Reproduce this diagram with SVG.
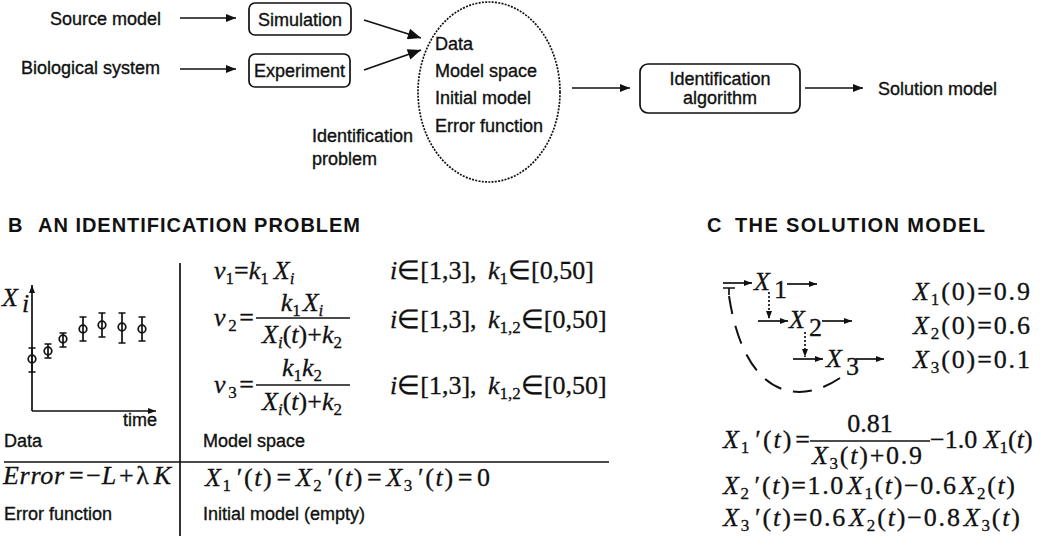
<svg xmlns="http://www.w3.org/2000/svg" width="1040" height="536" viewBox="0 0 1040 536">
<defs>
<style>
.s{font-family:"Liberation Sans",Arial,sans-serif;font-size:18px;fill:#111;stroke:#111;stroke-width:0.35}
.h{font-family:"Liberation Sans",Arial,sans-serif;font-size:20px;font-weight:bold;fill:#111}
.m{font-family:"Liberation Serif","Times New Roman",serif;font-size:26px;fill:#111;stroke:#111;stroke-width:0.3}
.i{font-style:italic}
.sb{font-size:17px}
.ln{stroke:#111;stroke-width:1.7;fill:none}
.bx{stroke:#111;stroke-width:1.7;fill:#fff}
.dot{stroke:#111;stroke-width:1.7;fill:none;stroke-dasharray:2 1.3}
</style>
<marker id="ah" viewBox="0 0 10 8" refX="10" refY="4" markerWidth="10" markerHeight="8" markerUnits="userSpaceOnUse" orient="auto"><path d="M0,0 L10,4 L0,8 z" fill="#111"/></marker>
<marker id="ahb" viewBox="0 0 12 10" refX="12" refY="5" markerWidth="14" markerHeight="11" markerUnits="userSpaceOnUse" orient="auto"><path d="M0,0 L12,5 L0,10 z" fill="#111"/></marker>
<marker id="ahs" viewBox="0 0 8 6" refX="8" refY="3" markerWidth="8" markerHeight="6" markerUnits="userSpaceOnUse" orient="auto"><path d="M0,0 L8,3 L0,6 z" fill="#111"/></marker>
</defs>
<rect width="1040" height="536" fill="#fff"/>

<!-- Panel A -->
<g id="source-model"><text class="s" x="161" y="25" text-anchor="end">Source model</text></g>
<g id="biological-system"><text class="s" x="160" y="74" text-anchor="end">Biological system</text></g>
<g id="simulation"><rect class="bx" x="249" y="3" width="102" height="32" rx="6"/><text class="s" x="300" y="26" text-anchor="middle">Simulation</text></g>
<g id="experiment"><rect class="bx" x="249" y="54" width="101" height="33" rx="6"/><text class="s" x="299.5" y="77" text-anchor="middle">Experiment</text></g>
<g id="identification-problem">
<ellipse class="dot" cx="489" cy="92" rx="71" ry="90"/>
<text class="s" x="435" y="50">Data</text>
<text class="s" x="435" y="77">Model space</text>
<text class="s" x="435" y="104">Initial model</text>
<text class="s" x="435" y="132">Error function</text>
<text class="s" x="312" y="142">Identification</text>
<text class="s" x="312" y="165">problem</text>
</g>
<g id="identification-algorithm"><rect class="bx" x="640" y="64" width="160" height="49" rx="8"/><text class="s" x="720" y="85" text-anchor="middle">Identification</text><text class="s" x="720" y="104" text-anchor="middle">algorithm</text></g>
<g id="solution-model"><text class="s" x="878" y="95">Solution model</text></g>

<g id="connectors">
<line class="ln" x1="180" y1="18" x2="236" y2="18" marker-end="url(#ah)"/>
<line class="ln" x1="180" y1="69" x2="236" y2="69" marker-end="url(#ah)"/>
<line class="ln" x1="364" y1="20" x2="421" y2="38" marker-end="url(#ahb)"/>
<line class="ln" x1="364" y1="70" x2="421" y2="50" marker-end="url(#ahb)"/>
<line class="ln" x1="572" y1="88" x2="630" y2="88" marker-end="url(#ah)"/>
<line class="ln" x1="805" y1="88" x2="863" y2="88" marker-end="url(#ah)"/>
</g>

<!-- Panel B -->
<g id="header-b"><text class="h" x="8" y="232">B</text><text class="h" x="38" y="232" textLength="322" lengthAdjust="spacing">AN IDENTIFICATION PROBLEM</text></g>
<line class="ln" x1="180" y1="263" x2="180" y2="536" stroke-width="1.8"/>
<line class="ln" x1="4" y1="462" x2="609" y2="462" stroke-width="1.8"/>

<g id="data">
<line class="ln" x1="32" y1="411" x2="32" y2="285" stroke-width="2" marker-end="url(#ahs)"/>
<line class="ln" x1="32" y1="411" x2="156" y2="411" stroke-width="2" marker-end="url(#ahs)"/>
<text class="m i" x="2" y="306" font-size="28">X</text><text class="m i" x="22" y="312" font-size="17">i</text>
<text class="s" x="123" y="426" font-size="16">time</text>
<g class="ln" stroke-width="1.8">
<path d="M32 348v24M28.5 348h7M28.5 372h7"/><circle cx="32" cy="359" r="3.8"/>
<path d="M48 344v14M44.5 344h7M44.5 358h7"/><circle cx="48" cy="351" r="3.8"/>
<path d="M63 333v14M59.5 333h7M59.5 347h7"/><circle cx="63" cy="339" r="3.8"/>
<path d="M83 317v24M79.5 317h7M79.5 341h7"/><circle cx="83" cy="329" r="3.8"/>
<path d="M102 313v24M98.5 313h7M98.5 337h7"/><circle cx="102" cy="325" r="3.8"/>
<path d="M122 313v30M118.5 313h7M118.5 343h7"/><circle cx="122" cy="327" r="3.8"/>
<path d="M142 317v24M138.5 317h7M138.5 341h7"/><circle cx="142" cy="329" r="3.8"/>
</g>
<text class="s" x="4" y="447">Data</text>
</g>

<g id="model-space">
<text class="m" x="214" y="279"><tspan class="i">v</tspan><tspan class="sb" dy="5">1</tspan><tspan dy="-5">=</tspan><tspan class="i">k</tspan><tspan class="sb" dy="5">1</tspan><tspan dy="-5" class="i" dx="5">X</tspan><tspan class="sb i" dy="5">i</tspan></text>
<text class="m" x="390" y="279"><tspan class="i">i</tspan>∈[1,3],</text>
<text class="m" x="488" y="279"><tspan class="i">k</tspan><tspan class="sb" dy="5">1</tspan><tspan dy="-5">∈[0,50]</tspan></text>

<text class="m" x="214" y="326" textLength="40" lengthAdjust="spacing"><tspan class="i">v</tspan><tspan class="sb" dy="5">2</tspan><tspan dy="-5">=</tspan></text>
<text class="m" x="302" y="311" text-anchor="middle"><tspan class="i">k</tspan><tspan class="sb" dy="5">1</tspan><tspan dy="-5" class="i" dx="2">X</tspan><tspan class="sb i" dy="5">i</tspan></text>
<line class="ln" x1="256" y1="318" x2="350" y2="318"/>
<text class="m" x="302" y="343" text-anchor="middle"><tspan class="i">X</tspan><tspan class="sb i" dy="5">i</tspan><tspan dy="-5">(</tspan><tspan class="i">t</tspan>)+<tspan class="i">k</tspan><tspan class="sb" dy="5">2</tspan></text>
<text class="m" x="390" y="328"><tspan class="i">i</tspan>∈[1,3],</text>
<text class="m" x="488" y="328"><tspan class="i">k</tspan><tspan class="sb" dy="5">1,2</tspan><tspan dy="-5">∈[0,50]</tspan></text>

<text class="m" x="214" y="393" textLength="40" lengthAdjust="spacing"><tspan class="i">v</tspan><tspan class="sb" dy="5">3</tspan><tspan dy="-5">=</tspan></text>
<text class="m" x="302" y="376" text-anchor="middle"><tspan class="i">k</tspan><tspan class="sb" dy="5">1</tspan><tspan dy="-5" class="i">k</tspan><tspan class="sb" dy="5">2</tspan></text>
<line class="ln" x1="256" y1="385" x2="350" y2="385"/>
<text class="m" x="302" y="410" text-anchor="middle"><tspan class="i">X</tspan><tspan class="sb i" dy="5">i</tspan><tspan dy="-5">(</tspan><tspan class="i">t</tspan>)+<tspan class="i">k</tspan><tspan class="sb" dy="5">2</tspan></text>
<text class="m" x="390" y="394"><tspan class="i">i</tspan>∈[1,3],</text>
<text class="m" x="488" y="394"><tspan class="i">k</tspan><tspan class="sb" dy="5">1,2</tspan><tspan dy="-5">∈[0,50]</tspan></text>
<text class="s" x="203" y="447">Model space</text>
</g>

<g id="error-function">
<text class="m" x="3" y="484" textLength="168" lengthAdjust="spacing"><tspan class="i">Error</tspan><tspan dx="4">=</tspan><tspan dx="2">−</tspan><tspan class="i">L</tspan><tspan dx="2">+</tspan><tspan dx="2">λ</tspan><tspan class="i" dx="4">K</tspan></text>
<text class="s" x="4" y="520">Error function</text>
</g>

<g id="initial-model">
<text class="m" x="205" y="486" textLength="285" lengthAdjust="spacing"><tspan class="i">X</tspan><tspan class="sb" dy="5">1</tspan><tspan dy="-5" dx="4">′(</tspan><tspan class="i">t</tspan>)<tspan dx="3">=</tspan><tspan class="i" dx="3">X</tspan><tspan class="sb" dy="5">2</tspan><tspan dy="-5" dx="4">′(</tspan><tspan class="i">t</tspan>)<tspan dx="3">=</tspan><tspan class="i" dx="3">X</tspan><tspan class="sb" dy="5">3</tspan><tspan dy="-5" dx="4">′(</tspan><tspan class="i">t</tspan>)<tspan dx="3">=</tspan><tspan dx="3">0</tspan></text>
<text class="s" x="203" y="520">Initial model (empty)</text>
</g>

<!-- Panel C -->
<g id="header-c"><text class="h" x="707" y="232">C</text><text class="h" x="735" y="232" textLength="250" lengthAdjust="spacing">THE SOLUTION MODEL</text></g>

<g id="network">
<g class="ln" stroke-width="1.8">
<line x1="723" y1="283" x2="752" y2="283" marker-end="url(#ahs)"/>
<path d="M723 288h12M729 288v7"/>
<line x1="787" y1="284" x2="817" y2="284" marker-end="url(#ahs)"/>
<line x1="769" y1="292" x2="769" y2="319" stroke-dasharray="2 2" marker-end="url(#ahs)"/>
<line x1="758" y1="321" x2="788" y2="321" marker-end="url(#ahs)"/>
<line x1="822" y1="321" x2="852" y2="321" marker-end="url(#ahs)"/>
<line x1="805" y1="332" x2="805" y2="357" stroke-dasharray="2 2" marker-end="url(#ahs)"/>
<line x1="793" y1="359" x2="823" y2="359" marker-end="url(#ahs)"/>
<line x1="856" y1="359" x2="884" y2="359" marker-end="url(#ahs)"/>
<path d="M840 378 C800 405 745 400 729 296" stroke-dasharray="19 12" stroke-width="2"/>
</g>
<text class="m i" x="754" y="290">X</text><text class="m" x="774" y="298" font-size="17">1</text>
<text class="m i" x="789" y="328">X</text><text class="m" x="809" y="336" font-size="17">2</text>
<text class="m i" x="826" y="367">X</text><text class="m" x="846" y="375" font-size="17">3</text>
</g>

<g id="initial-values">
<text class="m" x="913" y="300" textLength="117" lengthAdjust="spacing"><tspan class="i">X</tspan><tspan class="sb" dy="5">1</tspan><tspan dy="-5">(0)=0.9</tspan></text>
<text class="m" x="913" y="334" textLength="117" lengthAdjust="spacing"><tspan class="i">X</tspan><tspan class="sb" dy="5">2</tspan><tspan dy="-5">(0)=0.6</tspan></text>
<text class="m" x="913" y="368" textLength="117" lengthAdjust="spacing"><tspan class="i">X</tspan><tspan class="sb" dy="5">3</tspan><tspan dy="-5">(0)=0.1</tspan></text>
</g>

<g id="solution-equations">
<text class="m" x="723" y="448" textLength="87" lengthAdjust="spacing"><tspan class="i">X</tspan><tspan class="sb" dy="5">1</tspan><tspan dy="-5" dx="4">′(</tspan><tspan class="i">t</tspan>)<tspan dx="2">=</tspan></text>
<text class="m" x="870" y="432" text-anchor="middle">0.81</text>
<line class="ln" x1="810" y1="441" x2="930" y2="441"/>
<text class="m" x="812" y="464" textLength="110" lengthAdjust="spacing"><tspan class="i">X</tspan><tspan class="sb" dy="5">3</tspan><tspan dy="-5">(</tspan><tspan class="i">t</tspan>)+0.9</text>
<text class="m" x="930" y="448">−1.0 <tspan class="i">X</tspan><tspan class="sb" dy="5">1</tspan><tspan dy="-5">(</tspan><tspan class="i">t</tspan>)</text>
<text class="m" x="723" y="494" textLength="292" lengthAdjust="spacing"><tspan class="i">X</tspan><tspan class="sb" dy="5">2</tspan><tspan dy="-5" dx="4">′(</tspan><tspan class="i">t</tspan>)=1.0<tspan class="i" dx="2">X</tspan><tspan class="sb" dy="5">1</tspan><tspan dy="-5">(</tspan><tspan class="i">t</tspan>)−0.6<tspan class="i" dx="2">X</tspan><tspan class="sb" dy="5">2</tspan><tspan dy="-5">(</tspan><tspan class="i">t</tspan>)</text>
<text class="m" x="723" y="526" textLength="297" lengthAdjust="spacing"><tspan class="i">X</tspan><tspan class="sb" dy="5">3</tspan><tspan dy="-5" dx="4">′(</tspan><tspan class="i">t</tspan>)=0.6<tspan class="i" dx="2">X</tspan><tspan class="sb" dy="5">2</tspan><tspan dy="-5">(</tspan><tspan class="i">t</tspan>)−0.8<tspan class="i" dx="2">X</tspan><tspan class="sb" dy="5">3</tspan><tspan dy="-5">(</tspan><tspan class="i">t</tspan>)</text>
</g>
</svg>
